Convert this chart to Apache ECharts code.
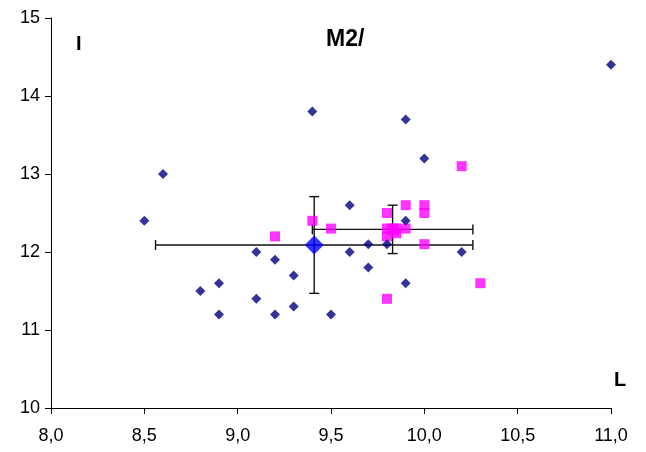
<!DOCTYPE html>
<html>
<head>
<meta charset="utf-8">
<script src="https://cdn.jsdelivr.net/npm/echarts@6/dist/echarts.min.js"></script>
<style>
  html, body { margin: 0; padding: 0; background: #fff; }
  #chart { width: 646px; height: 452px; }
</style>
</head>
<body>
<div id="chart"></div>
<script>
  // navy diamonds
  const navyX = [8.5, 8.6, 8.8, 8.9, 8.9, 9.1, 9.1, 9.2, 9.2, 9.3, 9.3, 9.4, 9.5, 9.6, 9.6, 9.7, 9.7, 9.8, 9.9, 9.9, 9.9, 10.0, 10.2, 11.0]
  const navyY = [12.4, 13.0, 11.5, 11.6, 11.2, 12.0, 11.4, 11.9, 11.2, 11.7, 11.3, 13.8, 11.2, 12.6, 12.0, 12.1, 11.8, 12.1, 13.7, 12.4, 11.6, 13.2, 12.0, 14.4]
  // pink squares
  const pinkX = [9.2, 9.4, 9.5, 9.8, 9.8, 9.85, 9.85, 9.8, 9.9, 9.9, 10.0, 10.0, 10.0, 10.2, 10.3, 9.8]
  const pinkY = [12.2, 12.4, 12.3, 12.5, 12.3, 12.3, 12.24, 12.2, 12.3, 12.6, 12.6, 12.5, 12.1, 13.1, 11.6, 11.4]
  // means with error (x, y, +-x, +-y)
  const meanNavy = [9.41, 12.09, 0.85, 0.62]
  const meanPink = [9.83, 12.29, 0.43, 0.31]
  const xTicks = [8.0, 8.5, 9.0, 9.5, 10.0, 10.5, 11.0]

  const chart = echarts.init(document.getElementById('chart'))

  // error bars drawn via the axis coordinates
  function errorBars(params, api) {
    const x = api.value(0), y = api.value(1), ex = api.value(2), ey = api.value(3)
    const l = api.coord([x - ex, y]), r = api.coord([x + ex, y])
    const t = api.coord([x, y + ey]), b = api.coord([x, y - ey])
    const c = 5
    const st = { stroke: '#111', lineWidth: 1.4 }
    return {
      type: 'group',
      children: [
        { type: 'line', shape: { x1: l[0], y1: l[1], x2: r[0], y2: r[1] }, style: st },
        { type: 'line', shape: { x1: l[0], y1: l[1] - c, x2: l[0], y2: l[1] + c }, style: st },
        { type: 'line', shape: { x1: r[0], y1: r[1] - c, x2: r[0], y2: r[1] + c }, style: st },
        { type: 'line', shape: { x1: t[0], y1: t[1], x2: b[0], y2: b[1] }, style: st },
        { type: 'line', shape: { x1: t[0] - c, y1: t[1], x2: t[0] + c, y2: t[1] }, style: st },
        { type: 'line', shape: { x1: b[0] - c, y1: b[1], x2: b[0] + c, y2: b[1] }, style: st }
      ]
    }
  }

  const option = {
    animation: false,
    textStyle: { fontFamily: 'Liberation Sans, Arial, sans-serif' },
    title: [
      { text: 'M2/', left: 321, top: 23, textStyle: { fontSize: 23, fontWeight: 'bold', color: '#000' } },
      { text: 'I', left: 71, top: 29, textStyle: { fontSize: 20, fontWeight: 'bold', color: '#000' } },
      { text: 'L', left: 609, top: 365, textStyle: { fontSize: 20, fontWeight: 'bold', color: '#000' } }
    ],
    grid: { left: 51, right: 35, top: 18, bottom: 44 },
    xAxis: {
      type: 'value', min: 8, max: 11, interval: 0.5,
      axisLine: { lineStyle: { color: '#000', width: 1 } },
      axisTick: { show: true, length: 6, lineStyle: { color: '#000' } },
      splitLine: { show: false },
      axisLabel: {
        color: '#000', fontSize: 18, margin: 19,
        formatter: v => xTicks.includes(v) ? v.toFixed(1).replace('.', ',') : ''
      }
    },
    yAxis: {
      type: 'value', min: 10, max: 15, interval: 1,
      axisLine: { show: true, lineStyle: { color: '#000', width: 1 } },
      axisTick: { show: true, length: 6, lineStyle: { color: '#000' } },
      splitLine: { show: false },
      axisLabel: { color: '#000', fontSize: 18, margin: 11 }
    },
    series: [
      {
        type: 'custom',
        renderItem: errorBars,
        data: [meanNavy, meanPink],
        z: 1
      },
      {
        type: 'scatter',
        symbol: 'diamond',
        symbolSize: 10,
        itemStyle: { color: '#000080' },
        data: navyX.map((x, i) => [x, navyY[i]]),
        z: 3
      },
      {
        type: 'scatter',
        symbol: 'rect',
        symbolSize: 10,
        itemStyle: { color: '#FF00FF' },
        data: pinkX.map((x, i) => [x, pinkY[i]]),
        z: 2
      },
      {
        type: 'scatter',
        symbol: 'rect',
        symbolSize: 12,
        itemStyle: { color: '#FF00FF' },
        data: [[meanPink[0], meanPink[1]]],
        z: 2
      },
      {
        type: 'scatter',
        symbol: 'diamond',
        symbolSize: 19,
        itemStyle: { color: '#0000FF' },
        data: [[meanNavy[0], meanNavy[1]]],
        z: 4
      }
    ]
  }

  chart.setOption(option)
</script>
</body>
</html>
